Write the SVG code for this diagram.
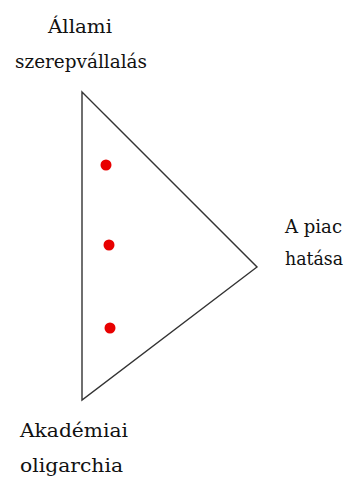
<svg xmlns="http://www.w3.org/2000/svg" width="350" height="480" viewBox="0 0 350 480">
<style>
.lbl{font-family:"DejaVu Serif","Liberation Serif",serif;font-size:18.5px;fill:#111}
.dot{fill:#e80000}
</style>
<rect width="350" height="480" fill="#fff"/>
<g id="triangle">
<polygon points="82,92 257,267 82,400" fill="none" stroke="#333" stroke-width="1.4"/>
</g>
<g id="connectors"></g>
<g id="dots">
<circle class="dot" cx="106" cy="165" r="5.5"/>
<circle class="dot" cx="109" cy="245" r="5.5"/>
<circle class="dot" cx="110" cy="328" r="5.5"/>
</g>
<g id="label-top">
<text class="lbl" x="80" y="33" text-anchor="middle" textLength="64" lengthAdjust="spacingAndGlyphs">Állami</text>
<text class="lbl" x="81" y="68" text-anchor="middle" textLength="132" lengthAdjust="spacingAndGlyphs">szerepvállalás</text>
</g>
<g id="label-right">
<text class="lbl" x="285" y="233" textLength="57" lengthAdjust="spacingAndGlyphs">A piac</text>
<text class="lbl" x="285" y="265" textLength="58" lengthAdjust="spacingAndGlyphs">hatása</text>
</g>
<g id="label-bottom">
<text class="lbl" x="20" y="437" textLength="108" lengthAdjust="spacingAndGlyphs">Akadémiai</text>
<text class="lbl" x="20" y="472" textLength="103" lengthAdjust="spacingAndGlyphs">oligarchia</text>
</g>
</svg>
